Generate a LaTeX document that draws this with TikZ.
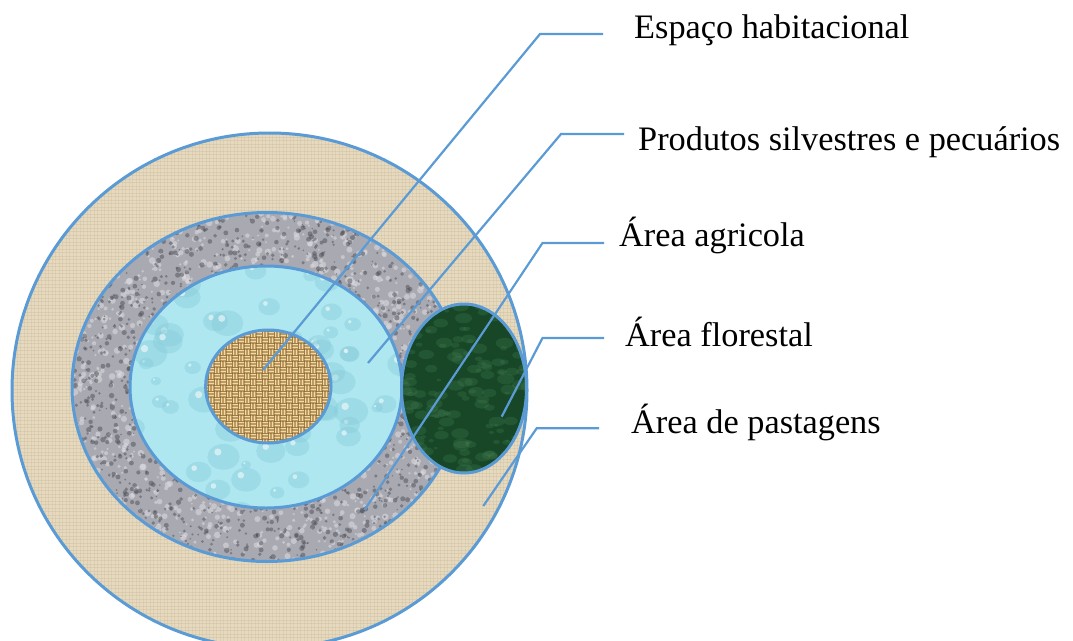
\documentclass[tikz,border=0pt]{standalone}
\usepackage{fontspec}
\setmainfont{Liberation Serif}
\definecolor{lead}{HTML}{5B9BD5}
\definecolor{linen}{HTML}{E6D9BF}
\definecolor{linendk}{HTML}{C4B38F}
\definecolor{granite}{HTML}{A9A9B1}
\definecolor{granitedk}{HTML}{4E4E56}
\definecolor{granitelt}{HTML}{DCDCE2}
\definecolor{water}{HTML}{AEE7EF}
\definecolor{waterdk}{HTML}{84CBD9}
\definecolor{burlap}{HTML}{BE9A60}
\definecolor{burlaplt}{HTML}{F0DBA2}
\definecolor{burlapdk}{HTML}{6E4E24}
\definecolor{forest}{HTML}{174726}
\definecolor{forestlt}{HTML}{4F8C5E}
\begin{document}
\begin{tikzpicture}[x=1pt,y=-1pt,
  outline/.style={draw=lead, line width=3pt},
  leader/.style={draw=lead, line width=2.2pt},
  lbl/.style={anchor=base west, inner sep=0pt, font=\fontsize{34.3}{40}\selectfont}]
\useasboundingbox (0,0) rectangle (1073,640);
\clip (0,0) rectangle (1073,640);
\pgfmathsetseed{11}
% ---------- outer zone: pastagens (linen)
\begin{scope}
  \clip (269.5,390.5) circle [radius=257.5];
  \fill[linen] (0,120) rectangle (540,660);
  \foreach \i in {130,133.5,...,650}
    \draw[linendk, opacity=.30, line width=.8pt] (10,\i) -- (530,\i);
  \foreach \i in {10,13.5,...,530}
    \draw[linendk, opacity=.25, line width=.8pt] (\i,130) -- (\i,650);
\end{scope}
% ---------- grey ring (granite)
\begin{scope}
  \clip (267,387) ellipse [x radius=195, y radius=174.5];
  \fill[granite] (70,210) rectangle (465,565);
  \foreach \k in {1,...,1800}{
    \pgfmathsetmacro\px{70+395*rnd}
    \pgfmathsetmacro\py{210+355*rnd}
    \pgfmathsetmacro\pr{1+2.4*rnd}
    \fill[granitelt, opacity=.55] (\px,\py) circle [radius=\pr];
  }
  \foreach \k in {1,...,2200}{
    \pgfmathsetmacro\px{70+395*rnd}
    \pgfmathsetmacro\py{210+355*rnd}
    \pgfmathsetmacro\pr{0.8+1.9*rnd}
    \fill[granitedk, opacity=.5] (\px,\py) circle [radius=\pr];
  }
\end{scope}
% ---------- light blue (water drops)
\begin{scope}
  \clip (266,387) ellipse [x radius=136, y radius=121];
  \fill[water] (125,260) rectangle (410,515);
  \foreach \k in {1,...,70}{
    \pgfmathsetmacro\px{125+285*rnd}
    \pgfmathsetmacro\py{260+255*rnd}
    \pgfmathsetmacro\pr{5+12*rnd}
    \fill[waterdk, opacity=.4] (\px,\py) ellipse [x radius=\pr, y radius=0.8*\pr];
    \fill[white, opacity=.55] (\px-0.35*\pr,\py-0.3*\pr) circle [radius=0.22*\pr];
  }
\end{scope}
% ---------- brown centre (burlap weave)
\begin{scope}
  \clip (268.3,386.5) ellipse [x radius=62.7, y radius=56.5];
  \fill[burlap] (200,325) rectangle (340,450);
  \foreach \i in {0,...,23}{
    \foreach \j in {0,...,21}{
      \pgfmathsetmacro\cx{202+6*\i}
      \pgfmathsetmacro\cy{325+6*\j}
      \pgfmathparse{int(mod(\i+\j,2))}
      \ifnum\pgfmathresult=0
        \draw[burlaplt, line width=1.3pt] (\cx,\cy+1.5) -- (\cx+6,\cy+1.5) (\cx,\cy+4.5) -- (\cx+6,\cy+4.5);
      \else
        \draw[burlaplt, line width=1.3pt] (\cx+1.5,\cy) -- (\cx+1.5,\cy+6) (\cx+4.5,\cy) -- (\cx+4.5,\cy+6);
      \fi
    }
  }
  \foreach \i in {202,208,...,346}
    \draw[burlapdk, opacity=.4, line width=.6pt] (\i,325) -- (\i,455);
  \foreach \j in {325,331,...,455}
    \draw[burlapdk, opacity=.4, line width=.6pt] (200,\j) -- (346,\j);
\end{scope}
% ---------- outlines of the rings
\draw[outline] (269.5,390.5) circle [radius=257.5];
\draw[outline] (267,387) ellipse [x radius=195, y radius=174.5];
\draw[outline] (266,387) ellipse [x radius=136, y radius=121];
\draw[outline] (268.3,386.5) ellipse [x radius=62.7, y radius=56.5];
% ---------- forest ellipse
\begin{scope}
  \clip (464,388.5) ellipse [x radius=62.5, y radius=84.5];
  \fill[forest] (400,300) rectangle (530,475);
  \foreach \k in {1,...,160}{
    \pgfmathsetmacro\px{400+130*rnd}
    \pgfmathsetmacro\py{300+175*rnd}
    \pgfmathsetmacro\pr{2+7*rnd}
    \fill[forestlt, opacity=.22] (\px,\py) ellipse [x radius=\pr, y radius=0.6*\pr];
  }
\end{scope}
\draw[outline] (464,388.5) ellipse [x radius=62.5, y radius=84.5];
% ---------- leaders and labels
\coordinate (p1) at (263,370);   \coordinate (k1) at (540,34);    \coordinate (e1) at (603,34);
\coordinate (p2) at (368,363);   \coordinate (k2) at (561,134);   \coordinate (e2) at (624,134);
\coordinate (p3) at (364.5,510); \coordinate (k3) at (542.5,243); \coordinate (e3) at (604,243);
\coordinate (p4) at (501.7,416.7); \coordinate (k4) at (542.5,338); \coordinate (e4) at (604,338);
\coordinate (p5) at (483.3,506); \coordinate (k5) at (536.7,428.3); \coordinate (e5) at (599,428.3);
\draw[leader] (p1) -- (k1) -- (e1);
\draw[leader] (p2) -- (k2) -- (e2);
\draw[leader] (p3) -- (k3) -- (e3);
\draw[leader] (p4) -- (k4) -- (e4);
\draw[leader] (p5) -- (k5) -- (e5);
\node[lbl] (t1) at (634,38.3) {Espaço habitacional};
\node[lbl] (t2) at (638,150) {Produtos silvestres e pecuários};
\node[lbl] (t3) at (619,246.7) {Área agricola};
\node[lbl] (t4) at (625,346.7) {Área florestal};
\node[lbl] (t5) at (631,433) {Área de pastagens};
\end{tikzpicture}
\end{document}
